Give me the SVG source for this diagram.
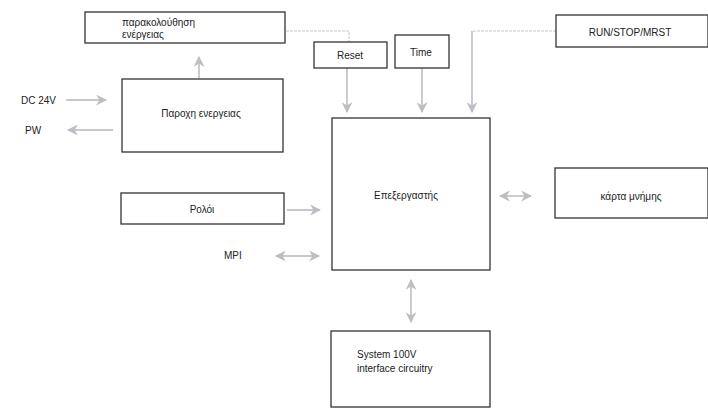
<svg xmlns="http://www.w3.org/2000/svg" width="708" height="408" viewBox="0 0 708 408">
<style>
.box{fill:#fff;stroke:#333;stroke-width:1.3}
.t{font-family:"Liberation Sans",Arial,sans-serif;font-size:10px;fill:#222}
.c{fill:none;stroke:#b4b6bc;stroke-width:1.4}
.d{fill:none;stroke:#c4c6cc;stroke-width:1;stroke-dasharray:3 1}
</style>
<defs>
<marker id="ah" viewBox="0 0 10 10" refX="9" refY="5" markerWidth="11" markerHeight="11" markerUnits="userSpaceOnUse" orient="auto-start-reverse">
<path d="M0,0 L10,5 L0,10 L3,5 Z" fill="#bcbec4"/>
</marker>
</defs>
<rect width="708" height="408" fill="#fff"/>
<g id="connectors">
<polyline class="d" points="286,31 349,31 349,42"/>
<polyline class="d" points="556,31 472,31"/>
<line class="c" x1="199" y1="78" x2="199" y2="57" marker-end="url(#ah)"/>
<line class="c" x1="66" y1="100" x2="106" y2="100" marker-end="url(#ah)"/>
<line class="c" x1="113" y1="130" x2="68" y2="130" marker-end="url(#ah)"/>
<line class="c" x1="347" y1="68" x2="347" y2="112" marker-end="url(#ah)"/>
<line class="c" x1="422" y1="68" x2="422" y2="112" marker-end="url(#ah)"/>
<line class="c" x1="472" y1="31" x2="472" y2="112" marker-end="url(#ah)"/>
<line class="c" x1="287" y1="210" x2="320" y2="210" marker-end="url(#ah)"/>
<line class="c" x1="276" y1="256" x2="319" y2="256" marker-start="url(#ah)" marker-end="url(#ah)"/>
<line class="c" x1="500" y1="196" x2="531" y2="196" marker-start="url(#ah)" marker-end="url(#ah)"/>
<line class="c" x1="411" y1="280" x2="411" y2="322" marker-start="url(#ah)" marker-end="url(#ah)"/>
</g>
<g id="monitor">
<rect class="box" x="85" y="12" width="200" height="31"/>
<text class="t" x="122" y="26">παρακολούθηση</text>
<text class="t" x="122" y="38">ενέργειας</text>
</g>
<g id="supply">
<rect class="box" x="122" y="79" width="161" height="73"/>
<text class="t" x="201" y="117" text-anchor="middle">Παροχη ενεργειας</text>
</g>
<g id="dc24v"><text class="t" x="21" y="104">DC 24V</text></g>
<g id="pw"><text class="t" x="25" y="134">PW</text></g>
<g id="reset">
<rect class="box" x="314" y="42" width="73" height="26"/>
<text class="t" x="350" y="59" text-anchor="middle">Reset</text>
</g>
<g id="time">
<rect class="box" x="395" y="35" width="54" height="33"/>
<text class="t" x="421" y="56" text-anchor="middle">Time</text>
</g>
<g id="runstop">
<rect class="box" x="556" y="15" width="152" height="32"/>
<text class="t" x="630" y="36" text-anchor="middle">RUN/STOP/MRST</text>
</g>
<g id="cpu">
<rect class="box" x="332" y="118" width="158" height="152"/>
<text class="t" x="406" y="199" text-anchor="middle">Επεξεργαστής</text>
</g>
<g id="card">
<rect class="box" x="555" y="168" width="153" height="50"/>
<text class="t" x="631" y="200" text-anchor="middle">κάρτα μνήμης</text>
</g>
<g id="clock">
<rect class="box" x="121" y="193" width="163" height="31"/>
<text class="t" x="202" y="213" text-anchor="middle">Ρολόι</text>
</g>
<g id="mpi"><text class="t" x="224" y="259">MPI</text></g>
<g id="system">
<rect class="box" x="331" y="331" width="159" height="76"/>
<text class="t" x="357" y="358">System 100V</text>
<text class="t" x="357" y="372">interface circuitry</text>
</g>
</svg>
